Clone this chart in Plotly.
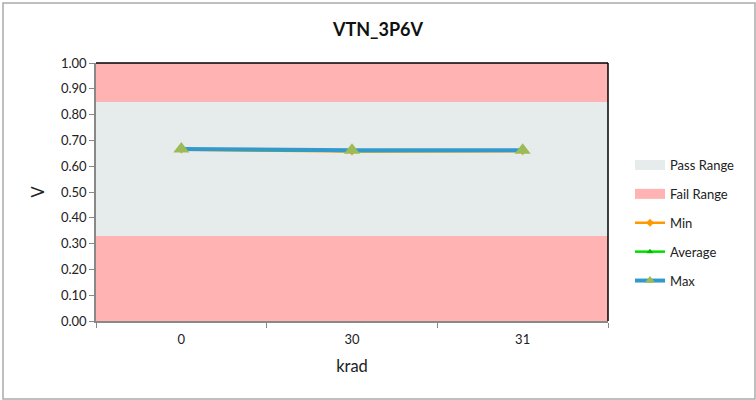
import plotly.graph_objects as go

categories = ["0", "30", "31"]
min_vals = [0.664, 0.657, 0.658]
avg_vals = [0.665, 0.659, 0.660]
max_vals = [0.667, 0.662, 0.662]
fail_low = [0.33, 0.33, 0.33]
pass_band = [0.52, 0.52, 0.52]
fail_high = [0.15, 0.15, 0.15]
y_ticks = [0.0, 0.1, 0.2, 0.3, 0.4, 0.5, 0.6, 0.7, 0.8, 0.9, 1.0]

FONT = "Lato"
PASS_C = "#E6ECEC"
FAIL_C = "#FFB3B3"

fig = go.Figure()
# background bands (stacked full-width bars)
fig.add_trace(go.Bar(x=categories, y=fail_low, marker=dict(color=FAIL_C, line=dict(width=0)),
                     showlegend=False, hoverinfo="skip"))
fig.add_trace(go.Bar(x=categories, y=pass_band, marker=dict(color=PASS_C, line=dict(width=0)),
                     showlegend=False, hoverinfo="skip"))
fig.add_trace(go.Bar(x=categories, y=fail_high, marker=dict(color=FAIL_C, line=dict(width=0)),
                     showlegend=False, hoverinfo="skip"))
# legend swatches for the bands
fig.add_trace(go.Scatter(x=[None], y=[None], mode="lines", name="Pass Range", legendgroup="g1",
                         line=dict(color=PASS_C, width=10)))
fig.add_trace(go.Scatter(x=[None], y=[None], mode="lines", name="Fail Range", legendgroup="g2",
                         line=dict(color=FAIL_C, width=10)))
fig.add_trace(go.Scatter(x=categories, y=min_vals, mode="lines+markers", name="Min", legendgroup="g3",
                         line=dict(color="#FF9900", width=2.5),
                         marker=dict(symbol="diamond", size=6, color="#FF9900")))
fig.add_trace(go.Scatter(x=categories, y=avg_vals, mode="lines+markers", name="Average", legendgroup="g4",
                         line=dict(color="#00DD00", width=2.5),
                         marker=dict(symbol="triangle-up", size=6, color="#00BB00")))
fig.add_trace(go.Scatter(x=categories, y=max_vals, mode="lines+markers", name="Max", legendgroup="g5",
                         showlegend=False,
                         line=dict(color="#3399CC", width=4),
                         marker=dict(symbol="triangle-up", size=14, color="#9BBB59")))
# legend entry for Max with the small legend marker
fig.add_trace(go.Scatter(x=[None], y=[None], mode="lines+markers", name="Max", legendgroup="g5",
                         line=dict(color="#3399CC", width=4),
                         marker=dict(symbol="triangle-up", size=9, color="#9BBB59")))

fig.update_layout(
    width=756, height=400,
    margin=dict(l=96, r=148, t=63, b=79),
    paper_bgcolor="white", plot_bgcolor="white",
    barmode="stack", bargap=0,
    font=dict(family=FONT, size=13, color="#222222"),
    title=dict(text="<b>VTN_3P6V</b>", x=0.5, xanchor="center", xref="container", y=1 - 30 / 400, yanchor="middle",
               font=dict(family=FONT, size=18, color="#111111")),
    showlegend=True,
    legend=dict(x=(630 - 96) / 512, xanchor="left", y=(321 - 150) / 258, yanchor="top",
                font=dict(family=FONT, size=13), traceorder="grouped", tracegroupgap=9,
                itemwidth=30, bgcolor="rgba(0,0,0,0)"),
)
fig.update_xaxes(type="category", title=dict(text="krad", font=dict(family=FONT, size=16.5), standoff=14),
                 showline=True, linecolor="#888888", linewidth=1.5,
                 ticks="outside", tickson="boundaries", ticklen=5, tickcolor="#888888",
                 ticklabelstandoff=6,
                 showgrid=False, zeroline=False, tickfont=dict(size=13))
fig.update_yaxes(range=[0, 1], tickvals=y_ticks, tickformat=".2f",
                 title=dict(text="V", font=dict(family=FONT, size=16.5), standoff=12),
                 showline=True, linecolor="#888888", linewidth=1.5,
                 ticks="outside", ticklen=5, tickcolor="#888888",
                 showgrid=False, zeroline=False, tickfont=dict(size=13))

# top and right plot borders
fig.add_shape(type="line", xref="paper", yref="paper", x0=0, x1=1, y0=1, y1=1, line=dict(color="black", width=1.5))
fig.add_shape(type="line", xref="paper", yref="paper", x0=1, x1=1, y0=0, y1=1, line=dict(color="black", width=1.5))
# chart outer border
fig.add_shape(type="rect", xref="paper", yref="paper",
              x0=(3 - 96) / 512, x1=(755 - 96) / 512, y0=-(399 - 321) / 258, y1=(321 - 3) / 258,
              line=dict(color="#AAAAAA", width=1.5), fillcolor="rgba(0,0,0,0)", layer="below")

fig.write_html("out.html", config={"displayModeBar": False},
               post_script="document.body.style.margin='0';")
